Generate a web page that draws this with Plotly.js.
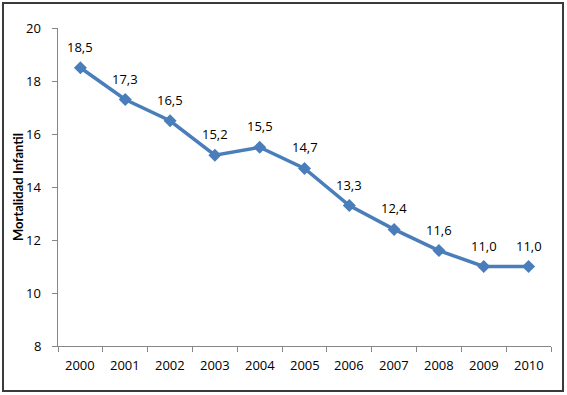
<!DOCTYPE html>
<html><head><meta charset="utf-8">
<script src="https://cdn.plot.ly/plotly-3.0.1.min.js"></script>
<style>
html,body{margin:0;padding:0;background:#fff;}
#wrap{position:relative;width:567px;height:395px;}
#chart{position:absolute;left:0;top:0;width:567px;height:395px;}
#frame{position:absolute;left:2px;top:2px;width:558px;height:386px;border:2px solid #3a3a3a;pointer-events:none;}
</style></head>
<body>
<div id="wrap"><div id="chart"></div><div id="frame"></div></div>
<script>
const years = ['2000','2001','2002','2003','2004','2005','2006','2007','2008','2009','2010'];
const mortalidad = [18.5, 17.3, 16.5, 15.2, 15.5, 14.7, 13.3, 12.4, 11.6, 11.0, 11.0];
const labels = mortalidad.map(v => v.toFixed(1).replace('.', ','));
const yTicks = [8, 10, 12, 14, 16, 18, 20];
const yTitle = 'Mortalidad Infantil';

const font = '"Open Sans", sans-serif';
const tf = {family: font, size: 13, color: '#000'};
const annotations = years.map((yr, i) => ({
  x: i, y: mortalidad[i], text: labels[i], showarrow: false, yshift: 21, font: tf
})).concat(years.map((yr, i) => ({
  x: i, xref: 'x', y: 0, yref: 'paper', yanchor: 'middle', yshift: -19,
  text: yr, showarrow: false, font: tf
}))).concat(yTicks.map(v => ({
  x: 0, xref: 'paper', xanchor: 'right', xshift: -15,
  y: v, yref: 'y', yanchor: 'middle',
  text: String(v), showarrow: false, font: tf
}))).concat([{
  x: 0, xref: 'paper', xanchor: 'center', xshift: -40,
  y: 0.5, yref: 'paper', yanchor: 'middle', textangle: -90,
  text: '<b>' + yTitle + '</b>', showarrow: false,
  font: {family: 'Lato, "Open Sans", sans-serif', size: 13, color: '#000'}
}]);
Plotly.newPlot('chart', [{
  x: years, y: mortalidad, type: 'scatter', mode: 'lines+markers',
  line: {color: '#4a7ebb', width: 3.5},
  marker: {symbol: 'diamond', size: 10, color: '#4a7ebb'},
  cliponaxis: false, hoverinfo: 'none'
}], {
  width: 567, height: 395,
  margin: {l: 58, r: 16, t: 28, b: 49},
  paper_bgcolor: '#fff', plot_bgcolor: '#fff',
  showlegend: false,
  annotations: annotations,
  font: tf,
  xaxis: {type: 'category', range: [-0.5, years.length - 0.5], tickson: 'boundaries',
    ticks: 'outside', ticklen: 5, showticklabels: false,
    tickcolor: '#868686', showline: true, linecolor: '#868686', linewidth: 1,
    showgrid: false, zeroline: false, automargin: false},
  yaxis: {range: [8, 20], tickvals: yTicks, ticks: 'outside', ticklen: 5, showticklabels: false,
    tickcolor: '#868686', showline: true, linecolor: '#868686', linewidth: 1,
    showgrid: false, zeroline: false, automargin: false}
}, {staticPlot: true});
</script>
</body></html>
